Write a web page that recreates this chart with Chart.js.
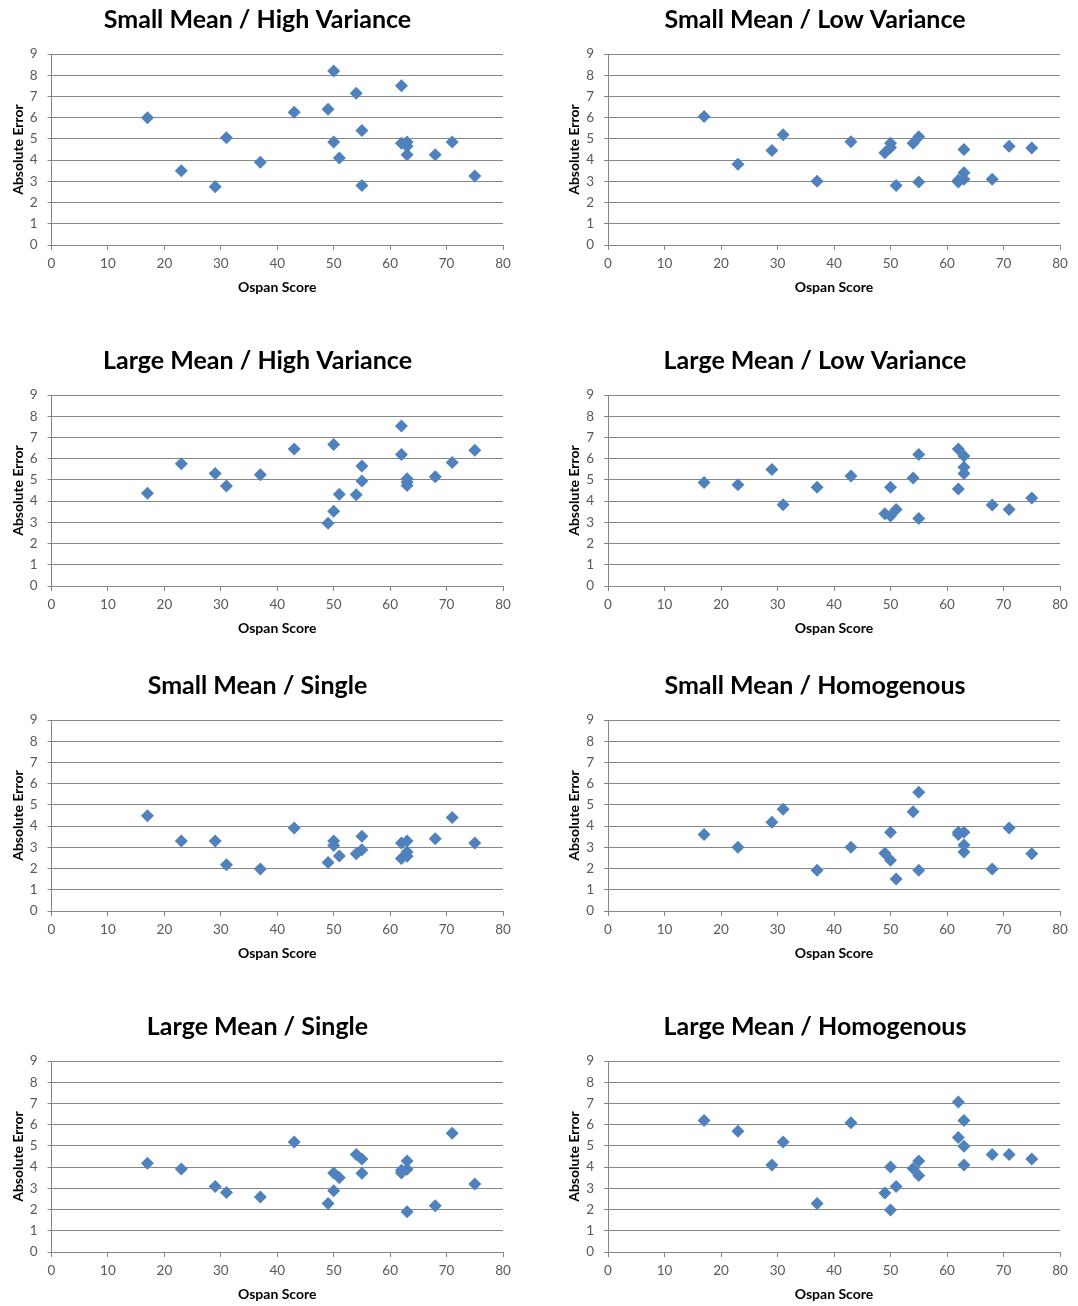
<!DOCTYPE html>
<html>
<head>
<meta charset="utf-8">
<script src="https://cdn.jsdelivr.net/npm/chart.js@4.4.0/dist/chart.umd.min.js"></script>
<style>
  body { margin: 0; background: #fff; width: 1078px; height: 1306px; position: relative; overflow: hidden; }
  .cell { position: absolute; }
</style>
</head>
<body>
<script>
// ospan score of each participant (same x for every panel)
const ospan = [17, 23, 29, 31, 37, 43, 49, 50, 50, 51, 54, 55, 55, 62, 62, 63, 63, 63, 68, 71, 75];

// absolute error per condition, in the same order as ospan
const smallHigh   = [6.0, 3.5, 2.75, 5.05, 3.9, 6.25, 6.4, 8.2, 4.85, 4.1, 7.15, 5.4, 2.8, 7.5, 4.8, 4.85, 4.65, 4.25, 4.25, 4.85, 3.25];
const smallLow    = [6.05, 3.8, 4.45, 5.2, 3.0, 4.87, 4.35, 4.8, 4.6, 2.8, 4.8, 5.1, 2.97, 2.97, 3.05, 4.5, 3.4, 3.1, 3.1, 4.65, 4.57];
const largeHigh   = [4.37, 5.76, 5.3, 4.71, 5.24, 6.46, 2.96, 6.67, 3.52, 4.32, 4.3, 5.65, 4.95, 7.54, 6.2, 5.05, 4.9, 4.74, 5.15, 5.82, 6.4];
const largeLow    = [4.88, 4.77, 5.49, 3.83, 4.65, 5.18, 3.4, 4.65, 3.3, 3.6, 5.09, 6.2, 3.18, 6.46, 4.57, 6.12, 5.6, 5.3, 3.82, 3.6, 4.15];
const smallSingle = [4.49, 3.3, 3.3, 2.18, 1.98, 3.91, 2.29, 3.3, 3.09, 2.59, 2.7, 3.52, 2.89, 3.2, 2.47, 3.3, 2.78, 2.58, 3.41, 4.4, 3.2];
const smallHomog  = [3.61, 3.0, 4.18, 4.79, 1.92, 3.0, 2.72, 3.71, 2.39, 1.51, 4.68, 5.59, 1.92, 3.71, 3.6, 3.71, 3.11, 2.78, 1.98, 3.91, 2.7];
const largeSingle = [4.18, 3.91, 3.09, 2.8, 2.59, 5.18, 2.29, 3.72, 2.89, 3.5, 4.6, 4.38, 3.71, 3.72, 3.85, 4.29, 3.9, 1.9, 2.18, 5.59, 3.2];
const largeHomog  = [6.2, 5.69, 4.1, 5.18, 2.28, 6.09, 2.78, 4.0, 1.98, 3.09, 3.93, 4.29, 3.6, 7.07, 5.4, 6.2, 4.98, 4.1, 4.59, 4.59, 4.38];

const titles = [
  'Small Mean / High Variance', 'Small Mean / Low Variance',
  'Large Mean / High Variance', 'Large Mean / Low Variance',
  'Small Mean / Single', 'Small Mean / Homogenous',
  'Large Mean / Single', 'Large Mean / Homogenous'
];
const panels = [smallHigh, smallLow, largeHigh, largeLow, smallSingle, smallHomog, largeSingle, largeHomog];

const xTicksMax = 80, yTicksMax = 9;

// layout (left column, right column)
const rowTop = [0, 341, 666, 1007];
const colLeft = [0, 540];
const colWidth = [523, 538];
const padLeft = [12, 30];
const padRight = [20, 18];
const yAxisW = [39.5, 38];
const yTitlePad = [-2.4, -4.4];

const FONT = 'Lato, "Open Sans", sans-serif';
const GRID = '#868686';
const BLUE = '#4F81BD';

titles.forEach(function (t, i) {
  const col = i % 2, row = Math.floor(i / 2);
  const div = document.createElement('div');
  div.className = 'cell';
  div.style.left = colLeft[col] + 'px';
  div.style.top = rowTop[row] + 'px';
  div.style.width = colWidth[col] + 'px';
  div.style.height = '301px';
  const cv = document.createElement('canvas');
  div.appendChild(cv);
  document.body.appendChild(div);

  new Chart(cv, {
    type: 'scatter',
    data: {
      datasets: [{
        data: ospan.map((x, k) => ({ x: x, y: panels[i][k] })),
        pointStyle: 'rectRot',
        pointRadius: 6.5,
        pointHoverRadius: 6.5,
        backgroundColor: BLUE,
        borderColor: BLUE,
        borderWidth: 0
      }]
    },
    options: {
      responsive: true,
      maintainAspectRatio: false,
      animation: false,
      events: [],
      layout: { padding: { left: padLeft[col], right: padRight[col], top: 0, bottom: 0 } },
      plugins: {
        legend: { display: false },
        tooltip: { enabled: false },
        title: {
          display: true,
          text: t,
          color: '#000',
          font: { family: FONT, size: 25, weight: 'bold' },
          padding: { top: 5, bottom: 19 }
        }
      },
      scales: {
        x: {
          type: 'linear',
          min: 0, max: xTicksMax,
          ticks: { stepSize: 10, color: '#595959', font: { family: FONT, size: 13.5 }, padding: 6, maxRotation: 0 },
          grid: { drawOnChartArea: false, drawTicks: true, tickLength: 5, color: GRID },
          border: { color: GRID },
          title: { display: true, text: 'Ospan Score', color: '#000', font: { family: FONT, size: 14, weight: 'bold' }, padding: { top: 0, bottom: 5.6 } },
          afterFit: function (s) { s.height = 56; }
        },
        y: {
          min: 0, max: yTicksMax,
          ticks: { stepSize: 1, color: '#595959', font: { family: FONT, size: 13.5 }, padding: 10 },
          grid: { color: GRID, tickLength: 4 },
          border: { color: GRID },
          title: { display: true, text: 'Absolute Error', color: '#000', font: { family: FONT, size: 14, weight: 'bold' }, padding: { top: yTitlePad[col], bottom: 0 } },
          afterFit: function (s) { s.width = yAxisW[col]; }
        }
      }
    }
  });
});
</script>
</body>
</html>
